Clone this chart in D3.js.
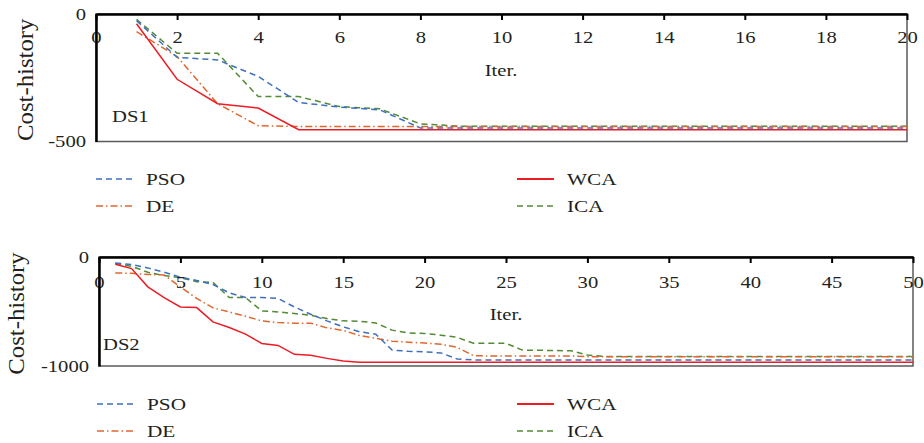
<!DOCTYPE html>
<meta charset="utf-8">
<style>
body { margin: 0; background: #fff; }
svg { display: block; }
text { font-family: "Liberation Serif", "DejaVu Serif", serif; fill: #231f20; }
.line { fill: none; stroke-width: 1.5px; }
</style>
<script src="https://d3js.org/d3.v7.min.js"></script>
<body>
<svg id="chart" width="924" height="443"></svg>
<script>

// ---- data ----
var seriesNames = ["PSO", "DE", "WCA", "ICA"];

var ds1Iter = [1,2,3,4,5,6,7,8,9,10,11,12,13,14,15,16,17,18,19,20];
var ds1PSO = [-26,-170,-180,-245,-347,-365,-376,-447,-447,-447,-447,-447,-447,-447,-447,-447,-447,-447,-447,-447];
var ds1DE  = [-69,-167,-352,-438,-441,-441,-441,-441,-441,-441,-441,-441,-441,-441,-441,-441,-441,-441,-441,-441];
var ds1WCA = [-38,-256,-352,-369,-454,-454,-454,-454,-454,-454,-454,-454,-454,-454,-454,-454,-454,-454,-454,-454];
var ds1ICA = [-21,-154,-154,-324,-324,-363,-372,-431,-440,-440,-440,-440,-440,-440,-440,-440,-440,-440,-440,-440];
var ds1XTicks = [0,2,4,6,8,10,12,14,16,18,20];
var ds1YTicks = [0,-500];

var ds2Iter = [1,2,3,4,5,6,7,8,9,10,11,12,13,14,15,16,17,18,19,20,21,22,23,24,25,26,27,28,29,30,31,32,33,34,35,36,37,38,39,40,41,42,43,44,45,46,47,48,49,50];
var ds2PSO = [-55,-70,-100,-140,-185,-215,-253,-329,-372,-372,-380,-458,-525,-586,-641,-686,-708,-854,-865,-870,-880,-935,-945,-945,-945,-945,-945,-945,-945,-945,-945,-945,-945,-945,-945,-945,-945,-945,-945,-945,-945,-945,-945,-945,-945,-945,-945,-945,-945,-945];
var ds2DE  = [-146,-150,-160,-165,-275,-380,-467,-504,-543,-586,-601,-607,-607,-650,-674,-720,-745,-772,-781,-790,-800,-829,-905,-908,-908,-908,-908,-908,-908,-915,-915,-915,-915,-915,-915,-915,-915,-915,-915,-915,-915,-915,-915,-915,-915,-915,-915,-915,-915,-915];
var ds2WCA = [-67,-106,-274,-372,-458,-464,-595,-647,-708,-793,-811,-893,-902,-930,-955,-966,-966,-966,-966,-966,-966,-966,-966,-966,-966,-966,-966,-966,-966,-966,-966,-966,-966,-966,-966,-966,-966,-966,-966,-966,-966,-966,-966,-966,-966,-966,-966,-966,-966,-966];
var ds2ICA = [-60,-85,-140,-170,-190,-226,-232,-372,-372,-495,-504,-519,-534,-565,-586,-589,-605,-671,-696,-702,-717,-737,-792,-792,-792,-854,-856,-858,-860,-899,-912,-912,-912,-912,-912,-912,-912,-912,-912,-912,-912,-912,-912,-912,-912,-912,-912,-912,-912,-912];
var ds2XTicks = [0,5,10,15,20,25,30,35,40,45,50];
var ds2YTicks = [0,-1000];

// ---- styling ----
var colors = { PSO: "#3f6fc0", DE: "#e0672c", WCA: "#ec1c24", ICA: "#538a35" };
var dashes = { PSO: "6,4", DE: "7,3,1.5,3", WCA: null, ICA: "6,4" };
var stretch = "scale(1.25,1)";   // the original figure is stretched sideways

var svg = d3.select("#chart");

function label(g, x, y, size, str, anchor) {
  return g.append("text")
    .attr("transform", "translate(" + x + "," + y + ") " + stretch)
    .attr("text-anchor", anchor || "start")
    .attr("font-size", size)
    .text(str);
}

function panel(cfg) {
  var g = svg.append("g");
  var x = d3.scaleLinear().domain(cfg.xDomain).range([cfg.left, cfg.right]);
  var y = d3.scaleLinear().domain(cfg.yDomain).range([cfg.top, cfg.bottom]);

  // gray frame (right / bottom)
  g.append("rect")
    .attr("x", cfg.left).attr("y", cfg.top)
    .attr("width", cfg.right - cfg.left).attr("height", cfg.bottom - cfg.top)
    .attr("fill", "none").attr("stroke", "#5a5a5a").attr("stroke-width", 1.5);

  var series = { PSO: cfg.pso, DE: cfg.de, WCA: cfg.wca, ICA: cfg.ica };
  var line = d3.line()
    .x(function(d) { return x(d[0]); })
    .y(function(d) { return y(d[1]); });

  ["ICA", "DE", "PSO", "WCA"].forEach(function(name) {
    var pts = cfg.iter.map(function(it, i) { return [it, series[name][i]]; });
    g.append("path")
      .datum(pts)
      .attr("class", "line")
      .attr("stroke", colors[name])
      .attr("stroke-dasharray", dashes[name])
      .attr("d", line);
  });

  // x axis on top, ticks pointing into the plot, labels underneath
  var xAxis = g.append("g")
    .attr("transform", "translate(0," + cfg.top + ")")
    .call(d3.axisBottom(x).tickValues(cfg.xTicks).tickSizeInner(6).tickSizeOuter(0)
      .tickPadding(cfg.xPad).tickFormat(function(d) { return String(d); }));
  xAxis.select(".domain").attr("stroke", "#000").attr("stroke-width", 2.5);
  xAxis.selectAll(".tick line").attr("stroke", "#000").attr("stroke-width", 2);
  xAxis.selectAll(".tick text").attr("font-size", 16.5).attr("transform", stretch);

  var yAxis = g.append("g")
    .attr("transform", "translate(" + cfg.left + ",0)")
    .call(d3.axisLeft(y).tickValues(cfg.yTicks).tickSize(0).tickPadding(8)
      .tickFormat(function(d) { return String(d); }));
  yAxis.select(".domain").attr("stroke", "#000").attr("stroke-width", 2.5);
  yAxis.selectAll(".tick text").attr("font-size", 16.5).attr("transform", stretch);

  label(g, cfg.iterX, cfg.iterY, 16.5, "Iter.", "middle");
  label(g, cfg.labelX, cfg.labelY, 16.5, cfg.label);

  g.append("text")
    .attr("transform", "translate(" + cfg.titleX + "," + ((cfg.top + cfg.bottom) / 2 + 2) + ") rotate(-90) scale(1.18,1.12)")
    .attr("text-anchor", "middle").attr("font-size", 21)
    .text("Cost-history");

  // legend
  var leg = [
    { name: "PSO", x: cfg.legX1, y: cfg.legY1 },
    { name: "DE",  x: cfg.legX1, y: cfg.legY2 },
    { name: "WCA", x: cfg.legX2, y: cfg.legY1 },
    { name: "ICA", x: cfg.legX2, y: cfg.legY2 }
  ];
  leg.forEach(function(d) {
    g.append("line")
      .attr("x1", d.x).attr("x2", d.x + 37)
      .attr("y1", d.y).attr("y2", d.y)
      .attr("stroke", colors[d.name])
      .attr("stroke-width", d.name === "WCA" ? 2 : 1.5)
      .attr("stroke-dasharray", dashes[d.name]);
    label(g, d.x + 50, d.y + 6, 17, d.name);
  });
}

panel({
  iter: ds1Iter, pso: ds1PSO, de: ds1DE, wca: ds1WCA, ica: ds1ICA,
  xDomain: [0, 20], yDomain: [0, -500], xTicks: ds1XTicks, yTicks: ds1YTicks,
  left: 96, right: 907, top: 14, bottom: 141.5, xPad: 11,
  iterX: 501, iterY: 76, label: "DS1", labelX: 112, labelY: 122, titleX: 33,
  legX1: 96, legX2: 517, legY1: 179, legY2: 206
});

panel({
  iter: ds2Iter, pso: ds2PSO, de: ds2DE, wca: ds2WCA, ica: ds2ICA,
  xDomain: [0, 50], yDomain: [0, -1000], xTicks: ds2XTicks, yTicks: ds2YTicks,
  left: 99, right: 913, top: 257, bottom: 366, xPad: 13,
  iterX: 506, iterY: 320, label: "DS2", labelX: 103, labelY: 350, titleX: 24,
  legX1: 97, legX2: 517, legY1: 404, legY2: 431
});

</script>
</body>
